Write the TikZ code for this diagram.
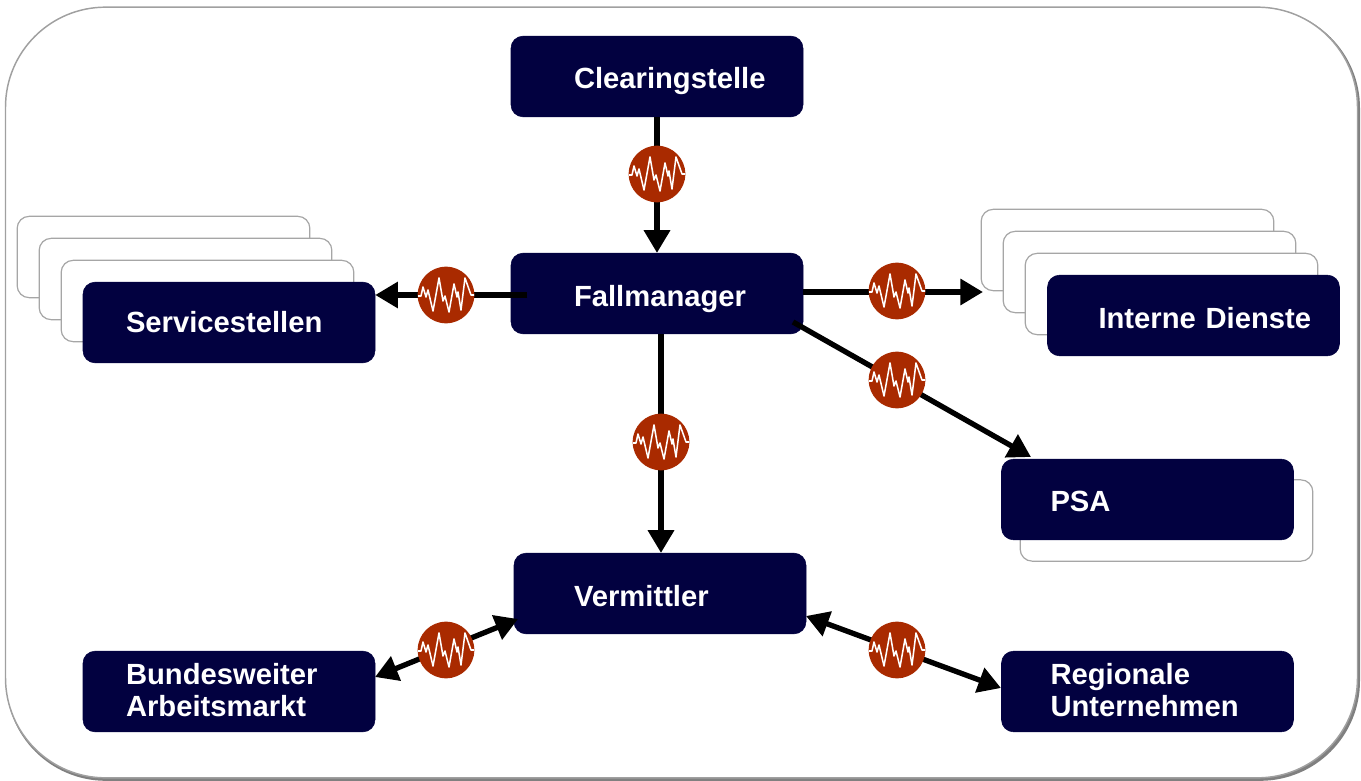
\documentclass[tikz,border=0pt]{standalone}
\usepackage{fontspec}
\setmainfont{Liberation Sans}
\usetikzlibrary{arrows.meta,calc}
\definecolor{navy}{HTML}{020140}
\definecolor{rust}{HTML}{A92A00}
\definecolor{ghostline}{HTML}{A6A6A6}
\definecolor{frameline}{HTML}{A0A0A0}
\definecolor{frameshadow}{HTML}{808080}
% #1 left inset (px), #2 downward shift (px), #3 text
\newcommand{\boxtext}[3]{\hspace*{#1\dimexpr0.75pt\relax}\smash{\raisebox{\dimexpr -5pt-#2\dimexpr0.75pt\relax\relax}{\parbox[c]{200pt}{\raggedright #3}}}}
\tikzset{
  px/.style={x=0.75pt,y=-0.75pt},
  navybox/.style={fill=navy,draw=navy,rounded corners=9pt,minimum height=60.5pt,text width=219pt,
    inner xsep=0pt,inner ysep=0pt,align=left,text=white,font=\fontsize{21.9}{24}\selectfont\bfseries},
  ghost/.style={fill=white,draw=ghostline,line width=0.9pt,rounded corners=9pt,minimum width=219.5pt,minimum height=61pt,inner sep=0pt},
  wave/.style={circle,fill=rust,minimum size=42.5pt,inner sep=0pt},
  link/.style={line width=4pt,-{Triangle[length=17pt,width=19pt]}},
  both/.style={line width=4pt,{Triangle[length=17pt,width=19pt]}-{Triangle[length=17pt,width=19pt]}},
  sig/.style={white,line width=1.15pt,line join=round},
}
\newcommand{\waveat}[1]{\draw[sig,shift={(#1)}]
 (-28,1)--(-25,1)--(-23,-8)--(-20,2)--(-18,-5)--(-13,16)--(-7,-17)--(-3,6)--(-1,1)--(3,17)--(8,-11)--(11,2)--(12,-3)--(15,15)--(19,-17)--(25,0)--(28,0);}
\begin{document}
\begin{tikzpicture}[px]
\useasboundingbox (0,0) rectangle (1361,781);
% outer frame
\node[draw=none,fill=frameshadow,rounded corners=75pt,minimum width=1015.5pt,minimum height=579.5pt,inner sep=0pt] (frameS) at (683,394.5) {};
\node[draw=frameline,line width=1.1pt,fill=white,rounded corners=75pt,minimum width=1014pt,minimum height=578pt,inner sep=0pt] (frame) at (681.5,392.5) {};
% stacked backgrounds
\node[ghost] (s1) at (163.5,257) {};
\node[ghost] (s2) at (185.5,279) {};
\node[ghost] (s3) at (207.5,301) {};
\node[ghost] (i1) at (1127.5,250) {};
\node[ghost] (i2) at (1149.5,272) {};
\node[ghost] (i3) at (1171.5,294) {};
\node[ghost] (p1) at (1166.5,520.5) {};
% coordinates for free connector ends
\coordinate (fallL) at (527,295);
\coordinate (fallR) at (803,292);
\coordinate (intL) at (983,292);
\coordinate (fallD) at (793,322);
\coordinate (psaT) at (1031,457);
\coordinate (verL) at (518,619);
\coordinate (bunR) at (375,677);
\coordinate (verR) at (806,616);
\coordinate (regL) at (1001,688);
% boxes
\node[navybox] (clear) at (657,76.5) {\boxtext{63}{5}{Clearingstelle}};
\node[navybox] (fall) at (657,293.5) {\boxtext{63}{6}{Fallmanager}};
\node[navybox] (serv) at (229,322.5) {\boxtext{43}{0}{Servicestellen}};
\node[navybox] (intern) at (1193.5,315.5) {\boxtext{51}{3}{Interne Dienste}};
\node[navybox] (psa) at (1147.5,499.5) {\boxtext{49}{2}{PSA}};
\node[navybox] (verm) at (660,593.5) {\boxtext{60}{3}{Vermittler}};
\node[navybox] (bund) at (229,691.5) {\boxtext{43}{-1}{Bundesweiter\\Arbeitsmarkt}};
\node[navybox] (reg) at (1147.5,691.5) {\boxtext{49}{-1}{Regionale\\Unternehmen}};
% signal circles positions
\coordinate (c1) at (657,174);
\coordinate (c2) at (446,295);
\coordinate (c3) at (897,291);
\coordinate (c4) at (897,380);
\coordinate (c5) at (661,442);
\coordinate (c6) at (446,650);
\coordinate (c7) at (897,650);
% connectors
\draw[link] (clear.south -| c1) -- (fall.north -| c1);
\draw[link] (fallL) -- (serv.east |- fallL);
\draw[link] (fallR) -- (intL);
\draw[link] (fallD) -- (psaT);
\draw[link] (fall.south -| c5) -- (verm.north -| c5);
\draw[both] (bunR) -- (verL);
\draw[both] (verR) -- (regL);
% signal circles
\foreach \n/\c in {w1/c1,w2/c2,w3/c3,w4/c4,w5/c5,w6/c6,w7/c7}{
  \node[wave] (\n) at (\c) {};
  \waveat{\c}
}
\end{tikzpicture}
\end{document}
